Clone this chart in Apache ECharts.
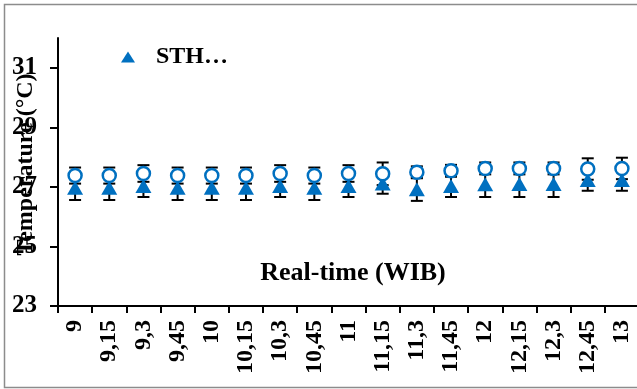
<!DOCTYPE html>
<html>
<head>
<meta charset="utf-8">
<script src="https://cdn.jsdelivr.net/npm/echarts@6/dist/echarts.min.js"></script>
<style>
  html, body { margin: 0; padding: 0; background: #fff; }
  #main { width: 637px; height: 389px; }
</style>
</head>
<body>
<div id="main"></div>
<script>
// time of day (WIB)
var categories = ['9', '9,15', '9,3', '9,45', '10', '10,15', '10,3', '10,45', '11',
  '11,15', '11,3', '11,45', '12', '12,15', '12,3', '12,45', '13'];

// hollow circle series
var circleValues = [27.38, 27.38, 27.45, 27.38, 27.38, 27.38, 27.45, 27.38, 27.45,
  27.44, 27.49, 27.54, 27.62, 27.62, 27.62, 27.60, 27.62];
var circleErr = [0.27, 0.27, 0.28, 0.27, 0.27, 0.27, 0.28, 0.27, 0.28,
  0.38, 0.20, 0.20, 0.20, 0.20, 0.20, 0.36, 0.36];

// STH (triangles)
var sthValues = [26.97, 26.97, 27.03, 26.97, 26.97, 26.97, 27.03, 26.97, 27.03,
  27.11, 26.92, 27.03, 27.09, 27.10, 27.10, 27.23, 27.23];
var sthErr = [0.41, 0.41, 0.37, 0.41, 0.41, 0.41, 0.37, 0.41, 0.37,
  0.34, 0.39, 0.37, 0.43, 0.44, 0.44, 0.36, 0.36];

var yTicks = [23, 25, 27, 29, 31];

var FONT = "'Liberation Serif', 'Times New Roman', serif";
var BLUE = '#0070C0';

function errData(vals, errs) {
  return vals.map(function (v, i) {
    return [i, v - errs[i], v + errs[i]];
  });
}

// vertical error bar with caps
function renderErr(params, api) {
  var i = api.value(0);
  var lo = api.coord([i, api.value(1)]);
  var hi = api.coord([i, api.value(2)]);
  var w = 6;
  var st = { stroke: '#000', lineWidth: 2 };
  return {
    type: 'group',
    children: [
      { type: 'line', shape: { x1: lo[0], y1: lo[1], x2: hi[0], y2: hi[1] }, style: st },
      { type: 'line', shape: { x1: lo[0] - w, y1: lo[1], x2: lo[0] + w, y2: lo[1] }, style: st },
      { type: 'line', shape: { x1: hi[0] - w, y1: hi[1], x2: hi[0] + w, y2: hi[1] }, style: st }
    ]
  };
}

var chart = echarts.init(document.getElementById('main'));
chart.setOption({
  animation: false,
  graphic: [{
    type: 'rect',
    shape: { x: 4.5, y: 4.5, width: 640, height: 383 },
    style: { fill: 'none', stroke: '#8c8c8c', lineWidth: 1.5 },
    silent: true
  }],
  legend: {
    left: 116,
    top: 40,
    itemWidth: 14,
    itemHeight: 11,
    data: [{ name: 'STH…', icon: 'triangle' }],
    itemStyle: { opacity: 1 },
    textStyle: {
      fontFamily: FONT, fontWeight: 'bold', fontSize: 24, color: '#000',
      padding: [0, 0, 0, 16]
    }
  },
  grid: {
    left: 58,
    top: 38,
    width: 581,
    bottom: 83,
    containLabel: false,
    outerBoundsMode: 'none'
  },
  xAxis: {
    type: 'category',
    data: categories,
    boundaryGap: true,
    name: 'Real-time (WIB)',
    nameLocation: 'middle',
    nameGap: -46,
    nameMoveOverlap: false,
    nameTextStyle: {
      fontFamily: FONT, fontWeight: 'bold', fontSize: 26, color: '#000',
      padding: [0, 0, 0, 9]
    },
    axisLine: { lineStyle: { color: '#000', width: 2 } },
    axisTick: { show: true, length: 7, lineStyle: { color: '#000', width: 2 } },
    axisLabel: {
      interval: 0,
      rotate: 90,
      margin: 14,
      fontFamily: FONT, fontWeight: 'bold', fontSize: 24, color: '#000'
    },
    splitLine: { show: false }
  },
  yAxis: {
    type: 'value',
    min: 23,
    max: 32,
    interval: 1,
    name: 'Temperature (°C)',
    nameLocation: 'middle',
    nameGap: 20,
    nameMoveOverlap: false,
    nameTextStyle: {
      fontFamily: FONT, fontWeight: 'bold', fontSize: 24, color: '#000',
      padding: [0, 0, 0, 15]
    },
    axisLine: { show: true, lineStyle: { color: '#000', width: 2 } },
    axisTick: { show: true, length: 8, customValues: yTicks, lineStyle: { color: '#000', width: 2 } },
    axisLabel: {
      customValues: yTicks,
      margin: 21,
      fontFamily: FONT, fontWeight: 'bold', fontSize: 25, color: '#000'
    },
    splitLine: { show: false }
  },
  series: [
    {
      name: 'err-sth',
      type: 'custom',
      renderItem: renderErr,
      encode: { x: 0, y: [1, 2] },
      data: errData(sthValues, sthErr),
      zlevel: 0,
      silent: true
    },
    {
      name: 'err-circle',
      type: 'custom',
      renderItem: renderErr,
      encode: { x: 0, y: [1, 2] },
      data: errData(circleValues, circleErr),
      zlevel: 0,
      silent: true
    },
    {
      name: 'STH…',
      type: 'scatter',
      symbol: 'triangle',
      symbolSize: [16, 14],
      itemStyle: { color: BLUE, opacity: 1 },
      data: sthValues,
      zlevel: 1,
      z: 3
    },
    {
      name: 'circle',
      type: 'scatter',
      symbol: 'circle',
      symbolSize: 13,
      itemStyle: { color: '#fff', borderColor: BLUE, borderWidth: 2.5, opacity: 1 },
      data: circleValues,
      zlevel: 1,
      z: 4
    }
  ]
});
</script>
</body>
</html>
